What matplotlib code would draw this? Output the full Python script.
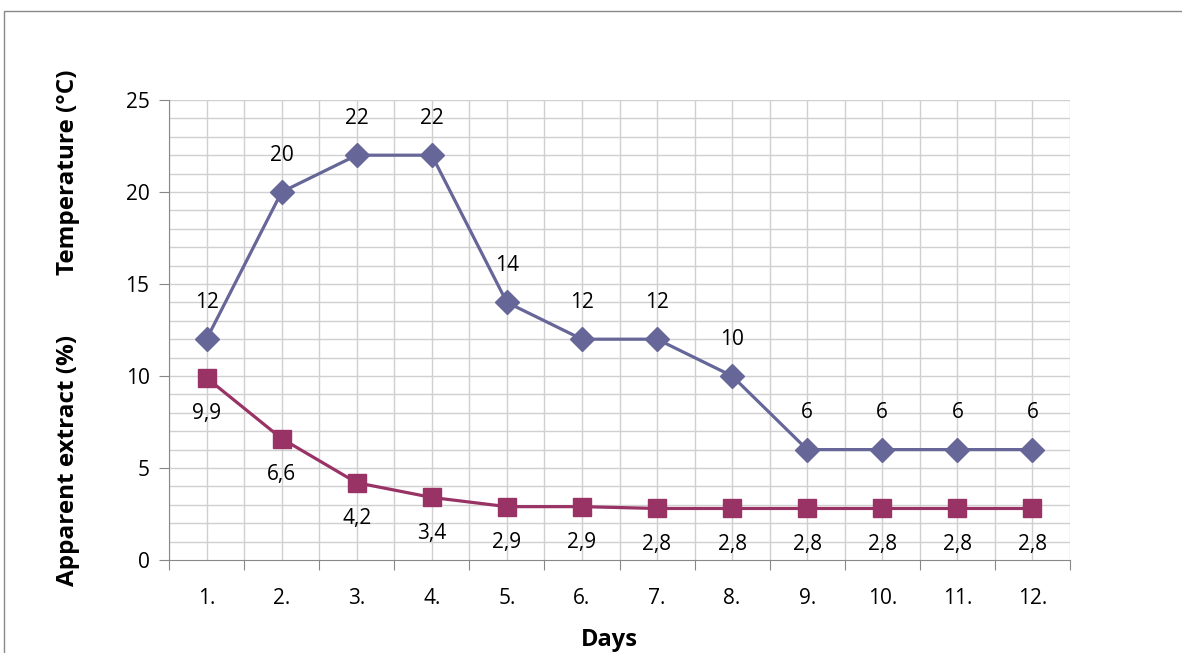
import matplotlib.pyplot as plt
from matplotlib.patches import Rectangle
import numpy as np

jours = ["1.", "2.", "3.", "4.", "5.", "6.", "7.", "8.", "9.", "10.", "11.", "12."]
temperature = [12, 20, 22, 22, 14, 12, 12, 10, 6, 6, 6, 6]
extrait = [9.9, 6.6, 4.2, 3.4, 2.9, 2.9, 2.8, 2.8, 2.8, 2.8, 2.8, 2.8]

COULEUR_TEMP = "#666699"
COULEUR_EXTRAIT = "#993366"
TAILLE = 15

plt.rcParams["font.family"] = ["Open Sans", "DejaVu Sans"]


def fmt_virgule(v):
    if float(v).is_integer():
        return str(int(v))
    return ("%.1f" % v).replace(".", ",")


fig = plt.figure(figsize=(11.82, 6.53), dpi=100)
fig.patches.append(Rectangle((4 / 1182, -0.1), 1.2, 1 - 11 / 653 + 0.1,
                             transform=fig.transFigure, fill=False,
                             edgecolor="#888888", linewidth=1.0))

ax = fig.add_axes([169 / 1182, 1 - 560 / 653, 901 / 1182, 460 / 653])
x = np.arange(1, len(jours) + 1)

ax.plot(x, temperature, color=COULEUR_TEMP, linewidth=2.3, marker="D",
        markersize=12.5, zorder=3)
ax.plot(x, extrait, color=COULEUR_EXTRAIT, linewidth=2.3, marker="s",
        markersize=13.5, zorder=3)

for xi, v in zip(x, temperature):
    ax.annotate(fmt_virgule(v), (xi, v), xytext=(0, 26.5), textcoords="offset points",
                ha="center", va="center", fontsize=TAILLE)
for xi, v in zip(x, extrait):
    ax.annotate(fmt_virgule(v), (xi, v), xytext=(0, -26), textcoords="offset points",
                ha="center", va="center", fontsize=TAILLE)

ax.set_xlim(0.5, len(jours) + 0.5)
ax.set_ylim(0, 25)

# graduations des jours : traits aux limites, étiquettes au centre
ax.set_xticks(np.arange(0.5, len(jours) + 1, 1.0))
ax.set_xticklabels([])
ax.set_xticks(x, minor=True)
ax.set_xticklabels(jours, minor=True, fontsize=TAILLE)
ax.tick_params(axis="x", which="major", length=7, color="#888888", direction="out")
ax.tick_params(axis="x", which="minor", length=0, pad=20)

ax.set_yticks(np.arange(0, 26, 5))
ax.set_yticks(np.arange(0, 26, 1), minor=True)
ax.tick_params(axis="y", which="major", length=7, color="#888888", labelsize=TAILLE, pad=7)
ax.tick_params(axis="y", which="minor", length=0)

for xv in np.arange(0.5, len(jours) + 1, 0.5):
    ax.axvline(xv, color="#d0d0d0", linewidth=1.0, zorder=0)
for yv in np.arange(1, 26, 1):
    ax.axhline(yv, color="#d0d0d0", linewidth=1.0, zorder=0)

for cote in ["top", "right"]:
    ax.spines[cote].set_visible(False)
ax.spines["left"].set_color("#888888")
ax.spines["bottom"].set_color("#888888")

fig.text(68 / 1182, 1 - 460 / 653, "Apparent extract (%)", rotation=90,
         ha="center", va="center", fontsize=17.5, fontweight="bold")
fig.text(68 / 1182, 1 - 172 / 653, "Temperature (°C)", rotation=90,
         ha="center", va="center", fontsize=17.5, fontweight="bold")
fig.text(609 / 1182, 1 - 640 / 653, "Days", ha="center", va="center",
         fontsize=17, fontweight="bold")

fig.savefig("out.png", dpi=100)
